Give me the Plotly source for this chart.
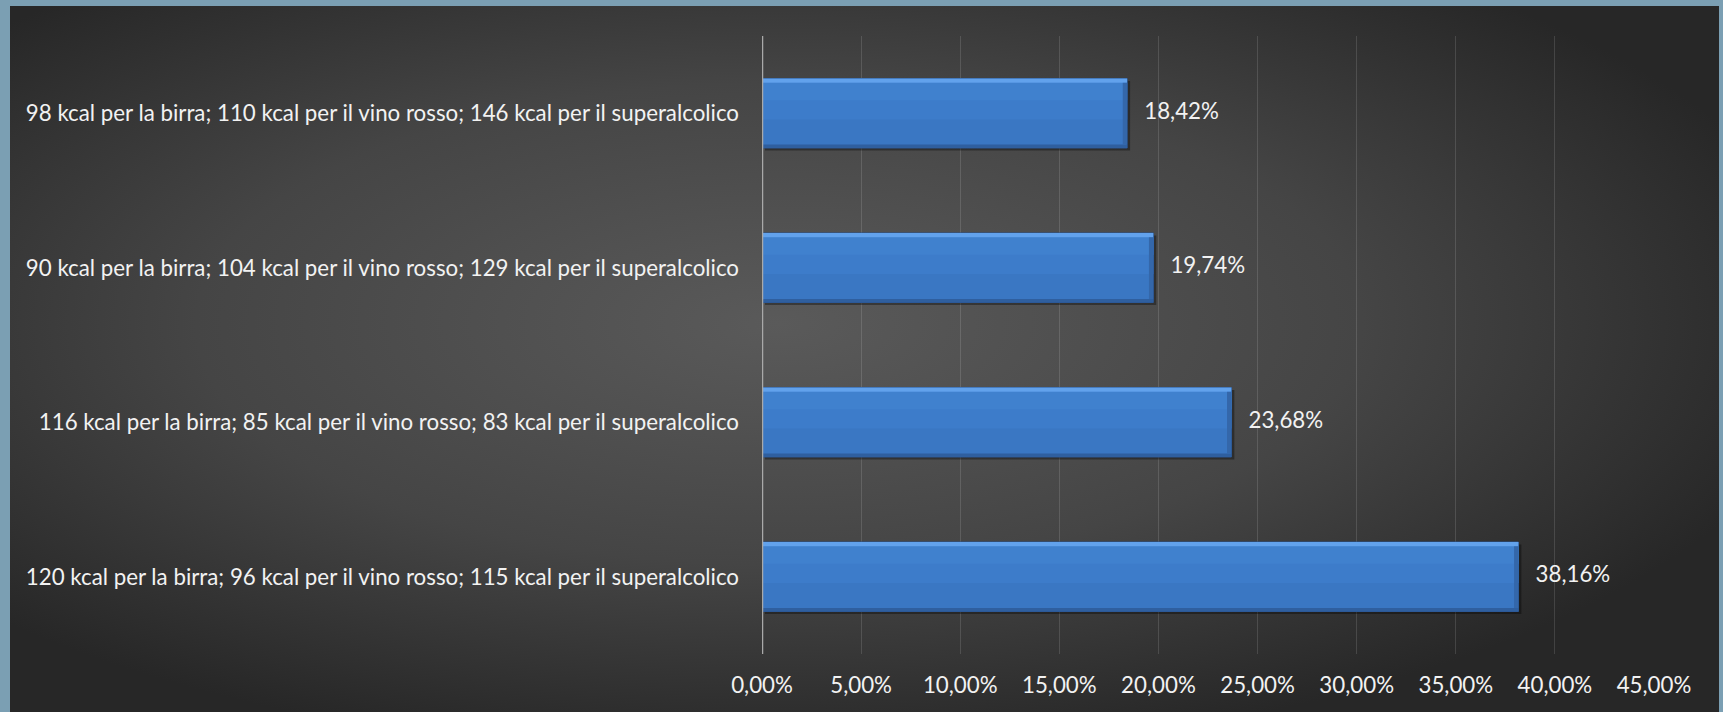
import base64
import plotly.graph_objects as go

# Data (bottom to top in plot order)
categories = [
    "120 kcal per la birra; 96 kcal per il vino rosso; 115 kcal per il superalcolico",
    "116 kcal per la birra; 85 kcal per il vino rosso; 83 kcal per il superalcolico",
    "90 kcal per la birra; 104 kcal per il vino rosso; 129 kcal per il superalcolico",
    "98 kcal per la birra; 110 kcal per il vino rosso; 146 kcal per il superalcolico",
]
values = [38.16, 23.68, 19.74, 18.42]
tick_vals = [0, 5, 10, 15, 20, 25, 30, 35, 40, 45]
tick_labels = ["0,00%", "5,00%", "10,00%", "15,00%", "20,00%",
               "25,00%", "30,00%", "35,00%", "40,00%", "45,00%"]

W, H = 1723, 712
ML, MR, MT, MB = 762, 69, 36, 58
PW = W - ML - MR
PH = H - MT - MB

FONT = "Lato"
FS = 22.3
TXT = "#f2f2f2"

BW = 0.45          # bar thickness (category units)
EDGE = 0.028       # bevel strip thickness
XEDGE = 0.22       # right bevel width in % units

fig = go.Figure()
# shadow
fig.add_trace(go.Bar(y=categories, x=values, orientation="h", width=BW,
                     offset=-BW / 2 - 0.016, base=0.15,
                     marker=dict(color="rgba(0,0,0,0.35)", line=dict(width=0)),
                     hoverinfo="skip", showlegend=False))
# main bar
fig.add_trace(go.Bar(y=categories, x=values, orientation="h", width=BW, offset=-BW / 2,
                     marker=dict(color="#3a77c3", line=dict(color="#2a5590", width=1)),
                     hoverinfo="skip", showlegend=False))
# upper part slightly lighter
fig.add_trace(go.Bar(y=categories, x=values, orientation="h", width=BW / 2 + 0.04 - EDGE,
                     offset=-0.04,
                     marker=dict(color="#3d7cca", line=dict(width=0)),
                     hoverinfo="skip", showlegend=False))
fig.add_trace(go.Bar(y=categories, x=values, orientation="h", width=BW / 4,
                     offset=BW / 2 - EDGE - BW / 4,
                     marker=dict(color="#4081ce", line=dict(width=0)),
                     hoverinfo="skip", showlegend=False))
# top highlight
fig.add_trace(go.Bar(y=categories, x=values, orientation="h", width=EDGE, offset=BW / 2 - EDGE,
                     marker=dict(color="#62a2ec", line=dict(width=0)),
                     hoverinfo="skip", showlegend=False))
# bottom dark strip
fig.add_trace(go.Bar(y=categories, x=values, orientation="h", width=EDGE * 0.8, offset=-BW / 2,
                     marker=dict(color="#2f5f9f", line=dict(width=0)),
                     hoverinfo="skip", showlegend=False))
# right bevel
fig.add_trace(go.Bar(y=categories, x=[XEDGE] * len(values),
                     base=[v - XEDGE for v in values], orientation="h",
                     width=BW - 1.8 * EDGE, offset=-BW / 2 + 0.8 * EDGE,
                     marker=dict(color="#3467aa", line=dict(width=0)),
                     hoverinfo="skip", showlegend=False))
# value labels
fig.add_trace(go.Scatter(y=categories, x=values, mode="text",
                         text=["\u00a0\u00a0\u00a0" + f"{v:.2f}%".replace(".", ",") for v in values],
                         textposition="middle right",
                         textfont=dict(family=FONT, size=FS, color=TXT),
                         hoverinfo="skip", showlegend=False, cliponaxis=False))

svg = '''<svg xmlns="http://www.w3.org/2000/svg" width="1709" height="706" viewBox="0 0 1709 706" preserveAspectRatio="none">
<defs><radialGradient id="g" cx="0.45" cy="0.45" r="0.62">
<stop offset="0" stop-color="#5a5a5a"/><stop offset="0.55" stop-color="#454545"/><stop offset="1" stop-color="#272727"/>
</radialGradient></defs><rect width="1709" height="706" fill="url(#g)"/></svg>'''
src = "data:image/svg+xml;base64," + base64.b64encode(svg.encode()).decode()

x0, x1, y0 = 10, 1719, 6
fig.add_layout_image(dict(source=src, xref="paper", yref="paper",
                          x=(x0 - ML) / PW, y=(H - MB - y0) / PH,
                          sizex=(x1 - x0) / PW, sizey=(H - y0) / PH,
                          xanchor="left", yanchor="top", sizing="stretch", layer="below"))

fig.update_layout(
    width=W, height=H,
    margin=dict(l=ML, r=MR, t=MT, b=MB, pad=0),
    paper_bgcolor="#7b9fb3", plot_bgcolor="rgba(0,0,0,0)",
    barmode="overlay",
    font=dict(family=FONT, size=FS, color=TXT),
    showlegend=False,
)
fig.update_xaxes(range=[0, 45], tickvals=tick_vals, ticktext=tick_labels,
                 showgrid=True, gridcolor="rgba(255,255,255,0.13)", gridwidth=1,
                 zeroline=False, showline=False, ticks="", ticklabelstandoff=16,
                 tickfont=dict(family=FONT, size=FS, color=TXT), fixedrange=True)
fig.update_yaxes(type="category", categoryorder="array", categoryarray=categories,
                 showgrid=False, zeroline=False, showline=False, ticks="",
                 ticklabelstandoff=22, tickfont=dict(family=FONT, size=FS, color=TXT),
                 fixedrange=True)
# axis line at 0
fig.add_vline(x=0, line=dict(color="#a9a9a9", width=2.5), layer="above")

fig.write_html("out.html", config={"displayModeBar": False},
               post_script="document.body.style.margin='0';document.body.style.padding='0';")
